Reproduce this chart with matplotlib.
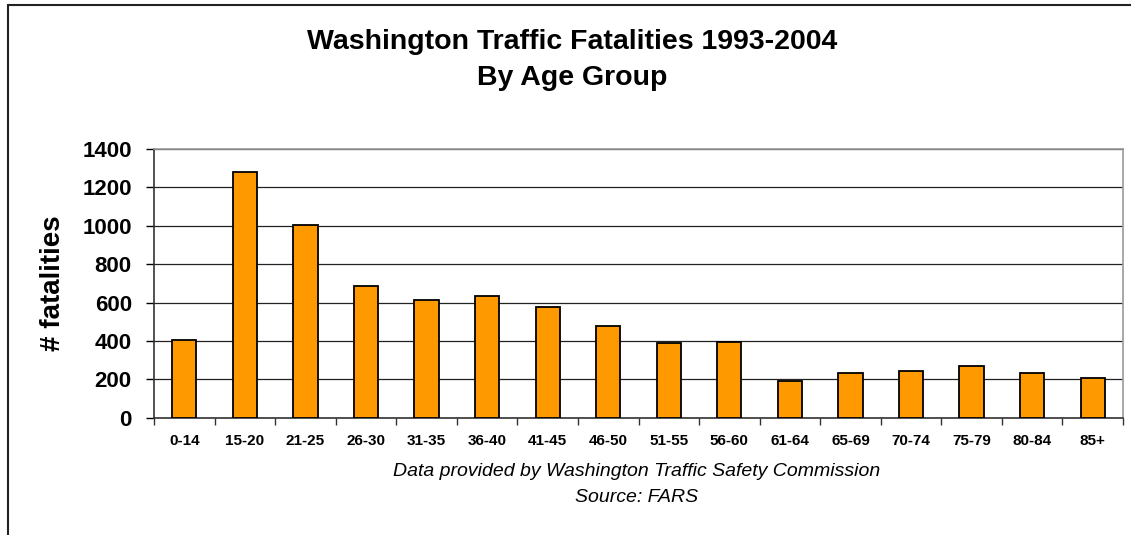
import matplotlib.pyplot as plt
import numpy as np
from matplotlib.patches import Rectangle

plt.rcParams['font.family'] = ['Liberation Sans', 'DejaVu Sans']

age_groups = ['0-14', '15-20', '21-25', '26-30', '31-35', '36-40', '41-45', '46-50',
              '51-55', '56-60', '61-64', '65-69', '70-74', '75-79', '80-84', '85+']
fatalities = [406, 1282, 1002, 686, 612, 633, 578, 478,
              388, 396, 190, 234, 245, 269, 234, 205]
y_ticks = [0, 200, 400, 600, 800, 1000, 1200, 1400]

fig = plt.figure(figsize=(11.31, 5.35), dpi=100)
ax = fig.add_axes([154 / 1131, 1 - 417.7 / 535, (1123 - 154) / 1131, (417.7 - 149) / 535])

x = np.arange(len(age_groups))
ax.bar(x, fatalities, width=0.4, color='#FF9900', edgecolor='black', linewidth=1.3, zorder=3)

ax.set_xlim(-0.5, len(age_groups) - 0.5)
ax.set_ylim(0, 1400)
ax.set_yticks(y_ticks)
ax.set_yticklabels([str(v) for v in y_ticks], fontsize=16, fontweight='bold')
ax.set_xticks(x)
ax.set_xticklabels(age_groups, fontsize=11, fontweight='bold')
ax.tick_params(axis='x', length=0, pad=12)
ax.tick_params(axis='y', length=6, width=1, pad=10)
# category boundary ticks on x axis
ax.set_xticks(np.arange(-0.5, len(age_groups)), minor=True)
ax.tick_params(axis='x', which='minor', length=5, width=1, color='#333333')

ax.yaxis.grid(True, color='#222222', linewidth=0.9, zorder=0)
ax.spines['left'].set_color('#333333')
ax.spines['bottom'].set_color('#333333')
ax.spines['left'].set_linewidth(1.2)
ax.spines['bottom'].set_linewidth(1.2)
ax.spines['top'].set_color('#999999')
ax.spines['right'].set_color('#999999')
ax.spines['top'].set_linewidth(1.2)
ax.spines['right'].set_linewidth(1.2)

ax.set_ylabel('# fatalities', fontsize=20, fontweight='bold', labelpad=12)

fig.text(572 / 1131, 1 - 42 / 535, 'Washington Traffic Fatalities 1993-2004',
         ha='center', va='center', fontsize=20.5, fontweight='bold')
fig.text(572 / 1131, 1 - 78 / 535, 'By Age Group',
         ha='center', va='center', fontsize=20.5, fontweight='bold')

fig.text(637 / 1131, 1 - 472 / 535, 'Data provided by Washington Traffic Safety Commission',
         ha='center', va='center', fontsize=14, style='italic')
fig.text(637 / 1131, 1 - 498 / 535, 'Source: FARS',
         ha='center', va='center', fontsize=14, style='italic')

# outer chart-area border (cropped at right and bottom)
fig.patches.append(Rectangle((8 / 1131, -0.1), 1.2, 1 - 5 / 535 + 0.1,
                             transform=fig.transFigure, fill=False,
                             edgecolor='#222222', linewidth=1.5))

fig.savefig('out.png', dpi=100)
